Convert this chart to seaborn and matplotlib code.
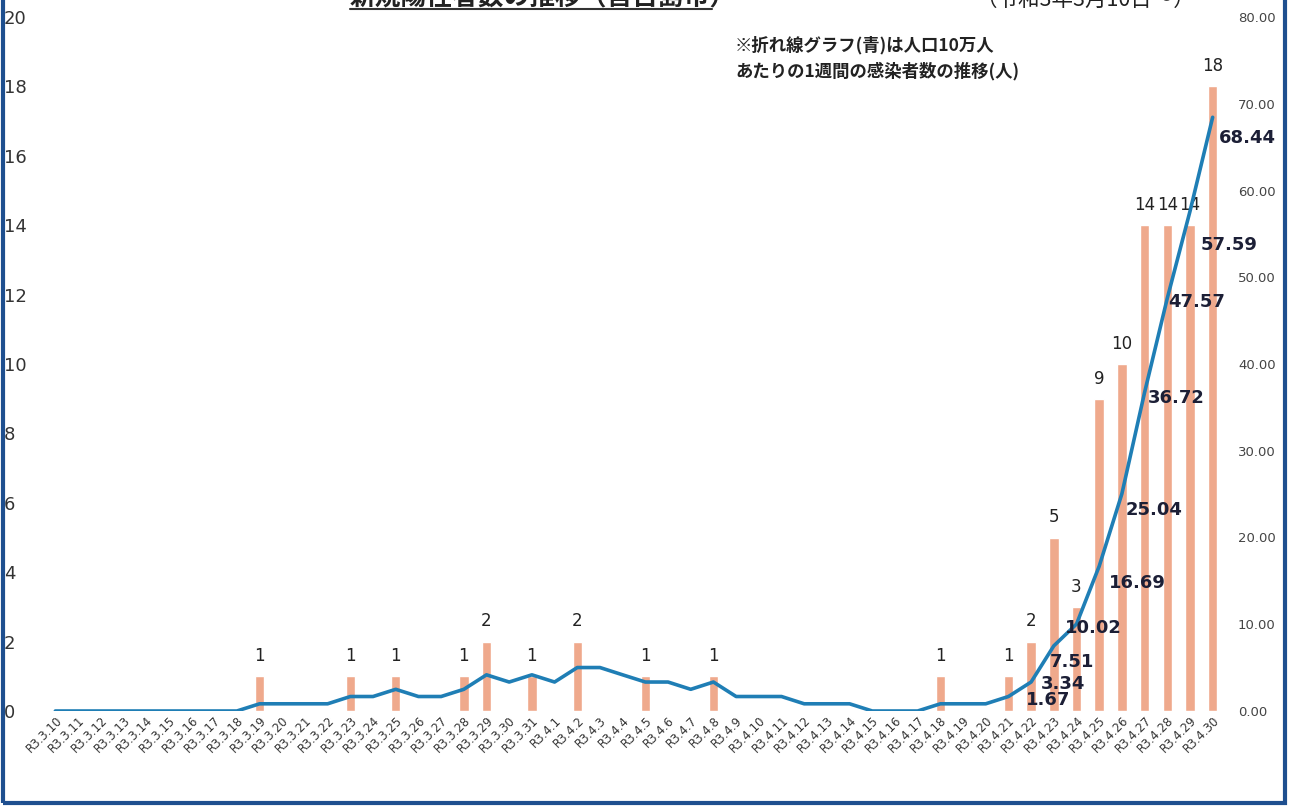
import numpy as np
import pandas as pd
import matplotlib
matplotlib.use("Agg")
import matplotlib.pyplot as plt
import seaborn as sns
from matplotlib.patches import Rectangle
from matplotlib.lines import Line2D

# ---------------- data ----------------
dates = ["R3.3.10", "R3.3.11", "R3.3.12", "R3.3.13", "R3.3.14", "R3.3.15", "R3.3.16",
         "R3.3.17", "R3.3.18", "R3.3.19", "R3.3.20", "R3.3.21", "R3.3.22", "R3.3.23",
         "R3.3.24", "R3.3.25", "R3.3.26", "R3.3.27", "R3.3.28", "R3.3.29", "R3.3.30",
         "R3.3.31", "R3.4.1", "R3.4.2", "R3.4.3", "R3.4.4", "R3.4.5", "R3.4.6", "R3.4.7",
         "R3.4.8", "R3.4.9", "R3.4.10", "R3.4.11", "R3.4.12", "R3.4.13", "R3.4.14",
         "R3.4.15", "R3.4.16", "R3.4.17", "R3.4.18", "R3.4.19", "R3.4.20", "R3.4.21",
         "R3.4.22", "R3.4.23", "R3.4.24", "R3.4.25", "R3.4.26", "R3.4.27", "R3.4.28",
         "R3.4.29", "R3.4.30"]

cases = [0, 0, 0, 0, 0, 0, 0, 0, 0, 1, 0, 0, 0, 1, 0, 1, 0, 0, 1, 2, 0, 1,
         0, 2, 0, 0, 1, 0, 0, 1, 0, 0, 0, 0, 0, 0, 0, 0, 0, 1, 0, 0, 1, 2, 5, 3,
         9, 10, 14, 14, 14, 18]

rate = [0, 0, 0, 0, 0, 0, 0, 0, 0, 0.83, 0.83, 0.83, 0.83, 1.67, 1.67, 2.50,
        1.67, 1.67, 2.50, 4.17, 3.34, 4.17,
        3.34, 5.01, 5.01, 4.17, 3.34, 3.34, 2.50, 3.34, 1.67, 1.67, 1.67, 0.83,
        0.83, 0.83, 0, 0, 0, 0.83, 0.83, 0.83, 1.67, 3.34, 7.51, 10.02, 16.69,
        25.04, 36.72, 47.57, 57.59, 68.44]

rate_label_start = "R3.4.21"

title_text = "新規陽性者数の推移（宮古島市）"
period_text = "（令和3年3月10日～）"
note_text = "※折れ線グラフ(青)は人口10万人\nあたりの1週間の感染者数の推移(人)"

left_ticks = list(range(0, 21, 2))
right_ticks = list(range(0, 81, 10))

# ---------------- styling ----------------
BAR_COLOR = "#EFA98C"
LINE_COLOR = "#1F7EB5"
FRAME_COLOR = "#1E4F8F"
W, H = 1292, 808

sns.set_theme(style="white")
plt.rcParams["font.family"] = ["DejaVu Sans", "Noto Sans CJK JP"]

df = pd.DataFrame({"date": dates, "cases": cases, "rate": rate,
                   "pos": np.arange(len(dates))})

fig = plt.figure(figsize=(W / 100, H / 100), dpi=100)
fig.patch.set_facecolor("white")
ax = fig.add_axes([44 / W, 1 - 711 / H, (1224 - 44) / W, (711 - 17) / H])

sns.barplot(data=df, x="date", y="cases", color=BAR_COLOR, saturation=1,
            width=0.42, ax=ax, order=dates)
ax.set_ylim(0, 20)
ax.set_yticks(left_ticks)
ax.set_xlabel("")
ax.set_ylabel("")

bar_labels = [str(v) if v > 0 else "" for v in cases]
ax.bar_label(ax.containers[0], labels=bar_labels, padding=8, fontsize=12,
             color="#222222")

ax2 = ax.twinx()
sns.lineplot(data=df, x="pos", y="rate", color=LINE_COLOR, linewidth=2.6, ax=ax2)
ax2.set_ylim(0, 80)
ax2.set_yticks(right_ticks)
ax2.set_yticklabels([f"{v:.2f}" for v in right_ticks])
ax2.set_ylabel("")
ax2.set_xlabel("")
ax.set_xlim(-0.5, len(dates) - 0.5)

# line data labels (style offsets in pixels: dx, dy)
offsets = {"R3.4.21": (18, -3), "R3.4.22": (10, -2), "R3.4.23": (-4, -16),
           "R3.4.24": (-12, -4), "R3.4.25": (10, -17), "R3.4.26": (4, -16),
           "R3.4.27": (3, -6), "R3.4.28": (1, -4), "R3.4.29": (11, -34),
           "R3.4.30": (6, -21)}
start = dates.index(rate_label_start)
for i in range(start, len(dates)):
    dx, dy = offsets.get(dates[i], (6, 0))
    ax2.annotate(f"{rate[i]:.2f}", (i, rate[i]), xytext=(dx * 0.72, dy * 0.72),
                 textcoords="offset points", ha="left", va="center",
                 fontsize=13, fontweight="bold", color="#1c1f36")

for a in (ax, ax2):
    for s in a.spines.values():
        s.set_visible(False)
    a.grid(False)

ax.tick_params(axis="x", length=0, pad=2, labelsize=8.5, colors="#333333")
for lab in ax.get_xticklabels():
    lab.set_rotation(45)
    lab.set_horizontalalignment("right")
    lab.set_rotation_mode("anchor")

ax.tick_params(axis="y", length=0, pad=29, labelsize=13, colors="#333333")
for lab in ax.get_yticklabels():
    lab.set_horizontalalignment("left")
ax2.tick_params(axis="y", length=0, pad=10, labelsize=9.5, colors="#444444")

# title (cut off at the top as in the scan)
fig.text(350 / W, 1 - 4 / H, title_text, fontsize=18.5, fontweight="bold",
         family=["Noto Sans CJK JP", "DejaVu Sans"], ha="left", va="baseline",
         color="#222222")
fig.add_artist(Line2D([350 / W, 712 / W], [1 - 9 / H, 1 - 9 / H],
                      color="#333333", linewidth=1.5, transform=fig.transFigure))
fig.text(975 / W, 1 - 6 / H, period_text, fontsize=15.5,
         family=["Noto Sans CJK JP", "DejaVu Sans"], ha="left", va="baseline",
         color="#222222")

fig.text(735 / W, 1 - 58 / H, note_text, fontsize=12.5, fontweight="bold",
         family=["Noto Sans CJK JP", "DejaVu Sans"], ha="left", va="center",
         color="#222222", linespacing=1.5)

# scan frame
fig.add_artist(Rectangle((3 / W, 5 / H), (1285 - 3) / W, 1.2,
                         transform=fig.transFigure, fill=False,
                         edgecolor=FRAME_COLOR, linewidth=3))

fig.savefig("out.png", dpi=100, facecolor="white")
